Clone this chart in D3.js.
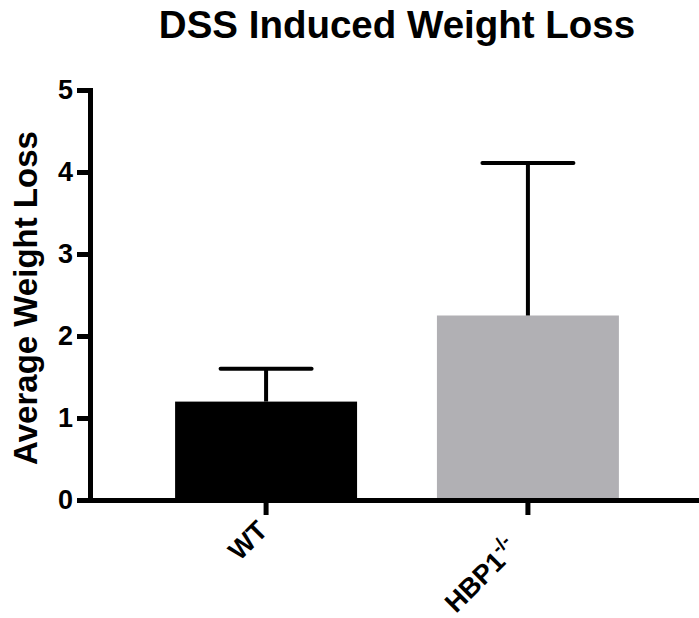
<!DOCTYPE html>
<html>
<head>
<meta charset="utf-8">
<script src="https://cdn.jsdelivr.net/npm/d3@7"></script>
<style>
  body { margin: 0; background: #fff; }
  text { font-family: "Liberation Sans", Arial, sans-serif; font-weight: bold; }
</style>
</head>
<body>
<div id="chart"></div>
<script>
// chart values
var categories = ["WT", "HBP1"];
var superscripts = ["", "-/-"];
var means = [1.20, 2.25];
var sems = [0.40, 1.86];
var barColors = ["#000000", "#b1b0b4"];
var yTicks = [0, 1, 2, 3, 4, 5];

var width = 699, height = 618;
var margin = {top: 90, right: -5, bottom: 118, left: 90};

var svg = d3.select("#chart").append("svg")
    .attr("width", width)
    .attr("height", height);

var x = d3.scaleBand()
    .domain(categories)
    .range([margin.left, width - margin.right])
    .paddingInner(0.305)
    .paddingOuter(0.325);

var y = d3.scaleLinear()
    .domain([0, 5])
    .range([height - margin.bottom, margin.top]);

// title
svg.append("text")
    .attr("x", 397)
    .attr("y", 38)
    .attr("text-anchor", "middle")
    .style("font-size", "38.5px")
    .text("DSS Induced Weight Loss");

// y label
svg.append("text")
    .attr("transform", "translate(37,298) rotate(-90)")
    .attr("text-anchor", "middle")
    .style("font-size", "33px")
    .text("Average Weight Loss");

// bars
svg.selectAll(".bar")
    .data(categories)
    .enter()
    .append("rect")
    .attr("class", "bar")
    .attr("x", function(d) { return x(d); })
    .attr("width", x.bandwidth())
    .attr("y", function(d, i) { return y(means[i]); })
    .attr("height", function(d, i) { return y(0) - y(means[i]); })
    .style("fill", function(d, i) { return barColors[i]; });

// error bars (upper only)
var capHalf = x.bandwidth() * 0.25;
var err = svg.selectAll(".err")
    .data(categories)
    .enter()
    .append("g")
    .attr("class", "err");

err.append("line")
    .attr("x1", function(d) { return x(d) + x.bandwidth() / 2; })
    .attr("x2", function(d) { return x(d) + x.bandwidth() / 2; })
    .attr("y1", function(d, i) { return y(means[i]); })
    .attr("y2", function(d, i) { return y(means[i] + sems[i]); })
    .style("stroke", "#000")
    .style("stroke-width", 4);

err.append("line")
    .attr("x1", function(d) { return x(d) + x.bandwidth() / 2 - capHalf; })
    .attr("x2", function(d) { return x(d) + x.bandwidth() / 2 + capHalf; })
    .attr("y1", function(d, i) { return y(means[i] + sems[i]); })
    .attr("y2", function(d, i) { return y(means[i] + sems[i]); })
    .style("stroke", "#000")
    .style("stroke-width", 4)
    .style("stroke-linecap", "round");

// y axis
var yAxis = svg.append("g")
    .attr("transform", "translate(" + margin.left + ",0)")
    .call(d3.axisLeft(y).tickValues(yTicks).tickFormat(d3.format("d")).tickSize(13).tickPadding(4));

yAxis.select(".domain").style("stroke-width", 5);
yAxis.selectAll(".tick line").style("stroke-width", 5);
yAxis.selectAll(".tick text")
    .style("font-size", "27px")
    .style("font-family", "'Liberation Sans', Arial, sans-serif")
    .style("fill", "#000");

// x axis
var xAxis = svg.append("g")
    .attr("transform", "translate(0," + y(0) + ")")
    .call(d3.axisBottom(x).tickSize(15).tickSizeOuter(0));

xAxis.select(".domain").style("stroke-width", 5);
xAxis.selectAll(".tick line").style("stroke-width", 5);
xAxis.selectAll(".tick text").remove();

// rotated labels, end anchored under the tick
xAxis.selectAll(".tick").each(function(d, i) {
    var hasSup = superscripts[i] !== "";
    var t = d3.select(this).append("text")
        .attr("transform", "translate(3,32) rotate(-45)")
        .attr("x", hasSup ? -21 : 0)
        .attr("y", hasSup ? 5 : 0)
        .attr("text-anchor", "end")
        .style("font-size", "27px")
        .style("fill", "#000");
    t.append("tspan").text(categories[i]);
    if (hasSup) {
        t.append("tspan")
            .attr("dy", "-0.6em")
            .style("font-size", "19px")
            .text(superscripts[i]);
    }
});
</script>
</body>
</html>
